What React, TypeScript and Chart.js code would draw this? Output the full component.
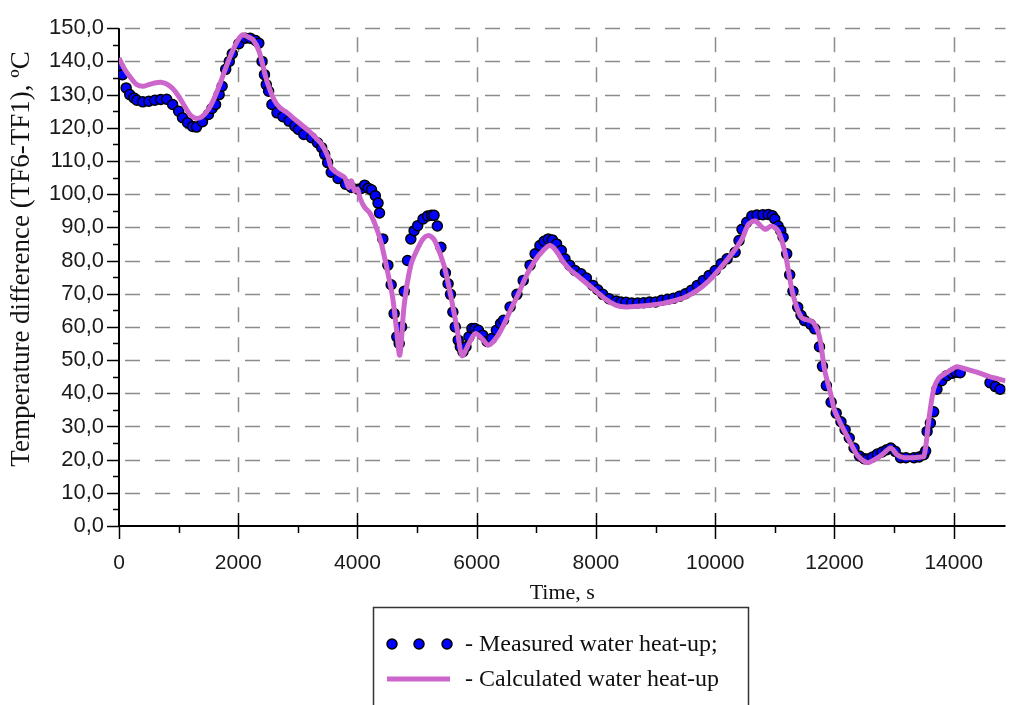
import React, { useEffect, useRef } from 'react';
import { Chart, registerables } from 'chart.js';

Chart.register(...registerables);

// ---- Data ----
const measuredTime = [
  0, 60, 120, 180, 250, 300, 400, 500, 600, 700, 800, 900, 1000, 1065, 1150, 1235, 1300, 1400, 1500, 1560,
  1620, 1680, 1730, 1790, 1850, 1900, 2010, 2120, 2200, 2290, 2345, 2400, 2440, 2470, 2510, 2565, 2650, 2750,
  2850, 2950, 3010, 3100, 3230, 3330, 3400, 3450, 3500, 3560, 3675, 3800, 3900, 4010, 4065, 4120, 4180, 4235,
  4300, 4345, 4370, 4425, 4510, 4565, 4615, 4660, 4700, 4740, 4785, 4840, 4895, 4950, 5010, 5100, 5175, 5240,
  5285, 5340, 5400, 5475, 5520, 5560, 5600, 5640, 5690, 5725, 5770, 5820, 5870, 5920, 5970, 6030, 6100, 6175,
  6250, 6330, 6400, 6450, 6560, 6675, 6780, 6895, 6980, 7060, 7130, 7200, 7270, 7340, 7420, 7480, 7560, 7650,
  7750, 7840, 7950, 8030, 8115, 8220, 8340, 8420, 8505, 8600, 8700, 8800, 8900, 9000, 9100, 9200, 9300, 9400,
  9500, 9600, 9700, 9800, 9900, 10000, 10100, 10200, 10335, 10400, 10450, 10530, 10615, 10700, 10800, 10890,
  10960, 11000, 11055, 11100, 11140, 11200, 11250, 11305, 11385, 11440, 11500, 11600, 11670, 11750, 11800,
  11865, 11945, 12030, 12110, 12180, 12250, 12330, 12420, 12500, 12555, 12640, 12720, 12800, 12880, 12945,
  13020, 13110, 13200, 13335, 13420, 13500, 13530, 13555, 13610, 13665, 13720, 13800, 13885, 13970, 14040,
  14110, 14610, 14700, 14780,
];
const measuredTemp = [
  138.5, 136, 132, 130, 129, 128.3, 127.8, 128, 128.3, 128.5, 128.6, 127, 125, 123, 121.5, 120.4, 120.2, 121.8, 124, 125.8,
  127, 130, 132.5, 137.6, 140, 142.3, 145.3, 147, 147, 146.3, 145.5, 140, 136, 133, 131, 127, 124.5, 123.3,
  122, 120.5, 119.5, 118, 117, 115.5, 114, 112, 109.5, 106.6, 104.7, 103, 102, 101.5, 101.7, 102.7, 101.8, 101.3,
  99.5, 97.3, 94.3, 86.5, 78.6, 72.7, 64, 57, 55, 60, 70.7, 80, 86.5, 89, 90.5, 92.5, 93.4, 93.6,
  93.6, 90.4, 84, 76.3, 73, 69.8, 64.5, 60, 56, 54, 52.5, 54, 57, 59.5, 59.5, 59, 57.5, 55.6,
  56.5, 59, 61, 62, 66, 69.8, 74, 78.6, 82, 84.5, 85.8, 86.5, 86.2, 85, 83, 80.5, 78.6, 77,
  76, 74.7, 72.5, 71.2, 69.8, 68.5, 67.8, 67.5, 67.4, 67.2, 67.2, 67.3, 67.5, 67.5, 68, 68.3, 68.6, 69.2,
  70, 71, 72.5, 74, 75.5, 77, 79, 80.5, 82.5, 86, 89.4, 91.5, 93.4, 93.7, 93.8, 93.9,
  93.5, 92.5, 90.4, 89, 87, 82, 75.7, 70.7, 65.9, 63.5, 61.9, 60.8, 59.4, 54, 48.1,
  42.3, 37.3, 34, 31.4, 29, 26.5, 23.5, 21.1, 20.3, 20.2, 20.8, 21.7, 22.3, 23, 23.5,
  22.5, 20.6, 20.6, 20.6, 20.8, 21.5, 22.6, 28.5, 31, 34.4, 41.2, 43.8, 45.3, 46, 46.3,
  46.2, 43.2, 42, 41.2,
];

const calculatedTime = [
  0, 100, 200, 300, 400, 500, 600, 700, 800, 900, 1000, 1100, 1200, 1300, 1400, 1500, 1600, 1700, 1800, 1900,
  2000, 2070, 2150, 2250, 2350, 2450, 2500, 2600, 2700, 2800, 2900, 3000, 3100, 3200, 3300, 3400, 3500, 3560,
  3650, 3785, 3850, 3900, 3950, 4000, 4050, 4120, 4200, 4285, 4395, 4505, 4590, 4650, 4710, 4785, 4895, 5010,
  5100, 5175, 5250, 5310, 5450, 5560, 5675, 5755, 5870, 5975, 6085, 6200, 6340, 6450, 6560, 6700, 6840, 6980,
  7115, 7225, 7330, 7450, 7560, 7670, 7850, 8005, 8170, 8340, 8505, 8700, 8900, 9100, 9300, 9500, 9700, 9900,
  10100, 10300, 10450, 10560, 10670, 10835, 10945, 11055, 11170, 11305, 11445, 11640, 11750, 11835, 11945,
  12000, 12100, 12200, 12300, 12400, 12555, 12700, 12800, 12945, 13050, 13165, 13300, 13450, 13500, 13540,
  13580, 13665, 13750, 13890, 14055, 14200, 14400, 14600, 14780, 14870,
];
const calculatedTemp = [
  141, 137.5, 135, 133, 132.5, 133, 133.5, 133.7, 133.2, 131.8, 129.5, 126.5, 123.8, 122.8, 123.5, 125.5, 129, 133.5, 138.5, 143,
  146.5, 148, 147.5, 146.5, 143, 136, 133, 128.5, 126, 124.8, 123.3, 121.8, 120.3, 118.8, 117, 115, 111.5, 108,
  106.5, 105, 102, 104, 101, 101.5, 98.5, 96, 94.5, 91.4, 85.5, 76.6, 68.9, 60, 51.5, 66.8, 78.6, 83.6,
  86.5, 87.5, 87, 85.5, 78.6, 69.8, 59, 51.3, 55, 58, 56.5, 54.5, 57, 60.5, 64.8, 70, 75.7, 80,
  83, 84.5, 83, 79.6, 77.3, 75.7, 73, 70.7, 68.2, 66.5, 66, 66.2, 66.5, 67, 67.8, 69, 71, 74,
  78, 82.5, 86.5, 90.9, 91.9, 89.4, 90.4, 88.9, 82.5, 69.8, 62.9, 61.4, 57, 47.1, 39.3,
  35, 31, 27.5, 24, 21, 19.1, 20.3, 21.5, 23.5, 21.5, 20.6, 20.6, 20.8, 21, 25,
  31.5, 41.2, 44.5, 46.3, 48, 47.3, 46.3, 45, 44.2, 43.7,
];

const xMajorTicks = [0, 2000, 4000, 6000, 8000, 10000, 12000, 14000];
const xMinorTicks = [1000, 3000, 5000, 7000, 9000, 11000, 13000];
const yMajorTicks = [0, 10, 20, 30, 40, 50, 60, 70, 80, 90, 100, 110, 120, 130, 140, 150];
const yMinorTicks = [5, 15, 25, 35, 45, 55, 65, 75, 85, 95, 105, 115, 125, 135, 145];

const X_MIN = 0;
const X_MAX = 14870;
const Y_MIN = 0;
const Y_MAX = 150;

const xTitle = 'Time, s';
const yTitle = 'Temperature difference (TF6-TF1), ºC';
const measuredLabel = '- Measured water heat-up;';
const calculatedLabel = '- Calculated water heat-up';

const MEASURED_FILL = '#0000FF';
const CALC_COLOR = '#CC66CC';
const SERIF = '"Liberation Serif", "Times New Roman", serif';
const SANS = '"Liberation Sans", Arial, sans-serif';

const framePlugin = {
  id: 'frame',
  beforeDatasetsDraw(chart: any) {
    const { ctx, chartArea } = chart;
    const xs = chart.scales.x;
    const ys = chart.scales.y;
    const { left, right, top, bottom } = chartArea;
    ctx.save();
    // dashed grid
    ctx.strokeStyle = '#8c8c8c';
    ctx.lineWidth = 1.5;
    ctx.setLineDash([15, 15]);
    yMajorTicks.forEach((v) => {
      if (v === Y_MIN) return;
      const y = Math.round(ys.getPixelForValue(v)) + 0.5;
      ctx.beginPath();
      ctx.moveTo(left + 6, y);
      ctx.lineTo(right, y);
      ctx.stroke();
    });
    xMajorTicks.forEach((v) => {
      if (v === X_MIN) return;
      const x = Math.round(xs.getPixelForValue(v)) + 0.5;
      ctx.beginPath();
      ctx.moveTo(x, top + 9);
      ctx.lineTo(x, bottom - 14);
      ctx.stroke();
    });
    ctx.setLineDash([]);
    // axes
    ctx.strokeStyle = '#000';
    ctx.lineWidth = 2;
    const ax = Math.round(left);
    const ay = Math.round(bottom);
    ctx.beginPath();
    ctx.moveTo(ax, top);
    ctx.lineTo(ax, ay);
    ctx.lineTo(right, ay);
    ctx.stroke();
    ctx.lineWidth = 1.5;
    yMajorTicks.forEach((v) => {
      const y = Math.round(ys.getPixelForValue(v)) + 0.5;
      ctx.beginPath();
      ctx.moveTo(ax - 12, y);
      ctx.lineTo(ax, y);
      ctx.stroke();
    });
    yMinorTicks.forEach((v) => {
      const y = Math.round(ys.getPixelForValue(v)) + 0.5;
      ctx.beginPath();
      ctx.moveTo(ax - 6, y);
      ctx.lineTo(ax, y);
      ctx.stroke();
    });
    xMajorTicks.forEach((v) => {
      const x = Math.round(xs.getPixelForValue(v)) + 0.5;
      ctx.beginPath();
      ctx.moveTo(x, v === X_MIN ? ay : ay - 13);
      ctx.lineTo(x, ay + 13);
      ctx.stroke();
    });
    xMinorTicks.forEach((v) => {
      const x = Math.round(xs.getPixelForValue(v)) + 0.5;
      ctx.beginPath();
      ctx.moveTo(x, ay);
      ctx.lineTo(x, ay + 7);
      ctx.stroke();
    });
    ctx.restore();
  },
  afterDraw(chart: any) {
    const { ctx, chartArea } = chart;
    ctx.save();
    ctx.fillStyle = '#111';
    ctx.textBaseline = 'middle';
    // x title
    ctx.font = `22px ${SERIF}`;
    ctx.textAlign = 'center';
    ctx.fillText(xTitle, (chartArea.left + chartArea.right) / 2, 593);
    // y title
    ctx.save();
    ctx.font = `27px ${SERIF}`;
    ctx.translate(22, 259);
    ctx.rotate(-Math.PI / 2);
    ctx.fillText(yTitle, 0, 0);
    ctx.restore();

    // legend box
    ctx.strokeStyle = '#333';
    ctx.lineWidth = 1.5;
    ctx.strokeRect(373.5, 607.5, 375, 140);
    [392, 419, 447].forEach((cx) => {
      ctx.beginPath();
      ctx.arc(cx, 644, 5, 0, Math.PI * 2);
      ctx.fillStyle = MEASURED_FILL;
      ctx.fill();
      ctx.strokeStyle = '#000';
      ctx.lineWidth = 1.5;
      ctx.stroke();
    });
    ctx.strokeStyle = CALC_COLOR;
    ctx.lineWidth = 5;
    ctx.beginPath();
    ctx.moveTo(387, 679);
    ctx.lineTo(450, 679);
    ctx.stroke();
    ctx.fillStyle = '#111';
    ctx.textAlign = 'left';
    ctx.font = `24px ${SERIF}`;
    ctx.fillText(measuredLabel, 465, 645);
    ctx.fillText(calculatedLabel, 465, 680);
    ctx.restore();
  },
};

export default function App() {
  const canvasRef = useRef<HTMLCanvasElement | null>(null);

  useEffect(() => {
    const canvas = canvasRef.current;
    if (!canvas) return;
    const chart = new Chart(canvas, {
      type: 'scatter',
      data: {
        datasets: [
          {
            label: 'Calculated water heat-up',
            data: calculatedTime.map((t, i) => ({ x: t, y: calculatedTemp[i] })),
            showLine: true,
            borderColor: CALC_COLOR,
            backgroundColor: CALC_COLOR,
            borderWidth: 5,
            pointRadius: 0,
            tension: 0.3,
            fill: false,
          },
          {
            label: 'Measured water heat-up',
            data: measuredTime.map((t, i) => ({ x: t, y: measuredTemp[i] })),
            showLine: false,
            pointRadius: 5,
            pointBackgroundColor: MEASURED_FILL,
            pointBorderColor: '#000',
            pointBorderWidth: 1.5,
          },
        ],
      },
      options: {
        animation: false,
        responsive: false,
        devicePixelRatio: 1,
        layout: { padding: { top: 18, left: 0, right: 0, bottom: 0 } },
        plugins: {
          legend: { display: false },
          tooltip: { enabled: false },
          title: { display: false },
        },
        scales: {
          x: {
            type: 'linear',
            min: X_MIN,
            max: X_MAX,
            afterBuildTicks: (s: any) => {
              s.ticks = xMajorTicks.map((v) => ({ value: v }));
            },
            afterFit: (s: any) => {
              s.height = 705 - 526;
            },
            grid: { display: false, drawTicks: false },
            border: { display: false },
            ticks: {
              autoSkip: false,
              maxRotation: 0,
              padding: 25,
              color: '#1a1a1a',
              font: { family: SANS, size: 21 },
              callback: (v: any) => String(v),
            },
          },
          y: {
            type: 'linear',
            min: Y_MIN,
            max: Y_MAX,
            afterBuildTicks: (s: any) => {
              s.ticks = yMajorTicks.map((v) => ({ value: v }));
            },
            afterFit: (s: any) => {
              s.width = 119;
            },
            grid: { display: false, drawTicks: false },
            border: { display: false },
            ticks: {
              autoSkip: false,
              padding: 15,
              color: '#1a1a1a',
              font: { family: SANS, size: 22 },
              callback: (v: any) => Number(v).toFixed(1).replace('.', ','),
            },
          },
        },
      },
      plugins: [framePlugin],
    });
    return () => chart.destroy();
  }, []);

  return (
    <div style={{ position: 'fixed', left: 0, top: 0, width: 1012, height: 705, background: '#fff' }}>
      <canvas ref={canvasRef} width={1012} height={705} style={{ display: 'block' }} />
    </div>
  );
}
